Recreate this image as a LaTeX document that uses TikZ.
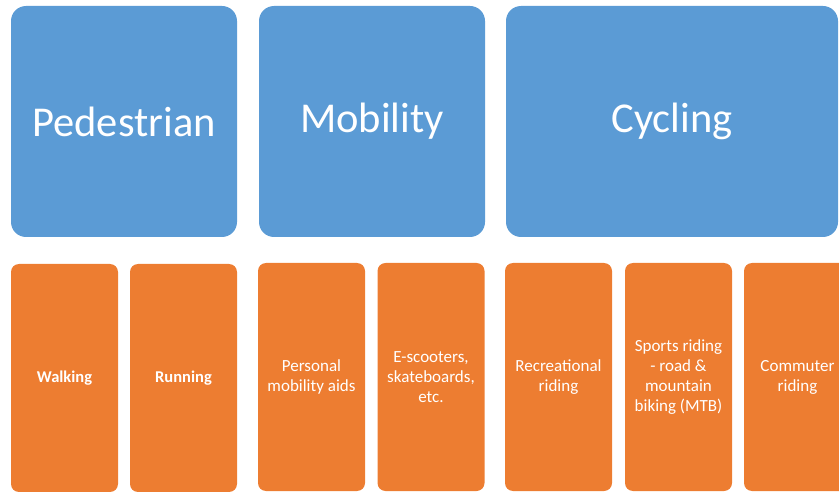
\documentclass[tikz,border=0pt]{standalone}
\usepackage{fontspec}
\setmainfont{Carlito}
\definecolor{catblue}{HTML}{5B9BD5}
\definecolor{subor}{HTML}{ED7D31}
\tikzset{
  cat/.style={fill=catblue, draw=none, rounded corners=15pt, minimum height=231pt, inner sep=0pt, text=white, font=\fontsize{42.5}{50}\selectfont},
  sub/.style={fill=subor, draw=none, rounded corners=8pt, minimum width=107pt, minimum height=228pt, inner sep=0pt, text=white, align=center, font=\fontsize{17}{20}\selectfont},
  subb/.style={sub, font=\fontsize{16.5}{20}\selectfont\bfseries},
}
\begin{document}
\begin{tikzpicture}[x=1pt,y=-1pt]
\useasboundingbox (0,0) rectangle (839,492);
\clip (0,0) rectangle (839,492);
\node[cat, minimum width=226pt] (ped) at (124,121.5) {Pedestrian};
\node[cat, minimum width=226pt] (mob) at (372,121.5) {Mobility};
\node[cat, minimum width=332pt] (cyc) at (672,121.5) {Cycling};
\node[subb] (walk) at (64.5,378) {Walking};
\node[subb] (run) at (183.5,378) {Running};
\node[sub] (pma) at (311.5,377) {Personal\\mobility aids};
\node[sub] (esc) at (431,377) {E-scooters,\\skateboards,\\etc.};
\node[sub] (rec) at (558.5,377) {Recreational\\riding};
\node[sub] (spo) at (678.5,377) {Sports riding\\- road \&\\mountain\\biking (MTB)};
\node[sub] (com) at (797.5,377) {Commuter\\riding};
\end{tikzpicture}
\end{document}
